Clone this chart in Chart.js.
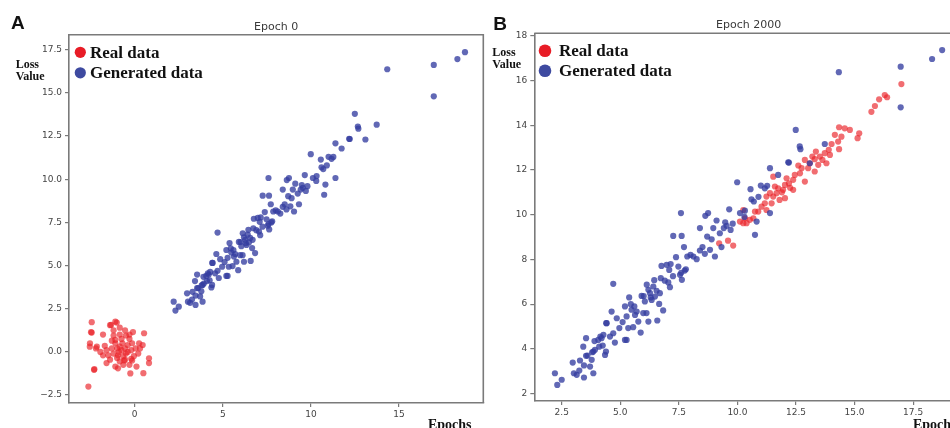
<!DOCTYPE html>
<html>
<head>
<meta charset="utf-8">
<script src="https://cdn.jsdelivr.net/npm/chart.js@4.4.0/dist/chart.umd.min.js"></script>
<style>
  body { margin: 0; width: 950px; height: 428px; overflow: hidden; background: #fff; position: relative; }
  .panel { position: absolute; top: 0; width: 490px; height: 428px; }
  #panelA { left: 0; }
  #panelB { left: 480px; }
</style>
</head>
<body>
<div class="panel" id="panelA"><canvas id="chartA" width="490" height="428"></canvas></div>
<div class="panel" id="panelB"><canvas id="chartB" width="490" height="428"></canvas></div>
<script>
// values, [epochs, loss]
const generatedData = [
  [2.21,2.91],[2.31,2.39],[2.5,2.62],[2.97,3.39],[3.02,2.91],[3.14,2.84],[3.25,3.03],[3.28,3.48],[3.45,3.26],[3.45,2.72],
  [3.54,4.48],[3.42,4.1],[3.54,3.69],[3.71,3.21],[3.78,3.51],[3.85,2.91],[3.85,3.88],[3.92,3.96],[4.06,4.4],[4.1,4.1],
  [4.2,4.48],[4.28,4.63],[4.35,3.73],[4.39,3.88],[4.42,5.15],[4.56,4.55],[4.63,5.67],[4.7,6.91],[4.77,4.28],[4.85,5.37],
  [4.96,4.93],[5.2,4.4],[5.27,4.4],[5.34,4.93],[5.2,5.9],[5.38,6.3],[5.27,5.45],[5.48,5.75],[5.55,4.97],[5.63,5.52],
  [5.7,5.67],[5.77,5.22],[5.87,4.73],[5.91,6.37],[5.98,5.6],[6.05,6.12],[6.12,5.6],[6.2,6.64],[6.2,5.22],[6.27,6.49],
  [6.34,6.19],[6.41,6.79],[6.48,6.34],[6.58,5.27],[6.66,6.01],[6.69,6.49],[6.76,7.71],[6.83,5.72],[6.98,7.76],[7.09,7.53],
  [7.05,6.97],[7.12,6.76],[7.15,7.79],[7.26,9.05],[7.38,8.1],[7.48,7.68],[7.55,7.31],[7.62,9.05],[7.59,10.07],[7.63,7.09],
  [7.72,8.55],[7.8,7.56],[7.86,8.13],[8.12,8.13],[8.26,8.01],[8.4,9.4],[8.4,8.4],[8.51,8.55],[8.61,8.25],[8.71,9.02],
  [8.75,10.07],[8.83,8.43],[8.97,9.4],[9.04,8.13],[9.11,9.74],[9.25,9.17],[9.32,8.55],[9.42,9.4],[9.54,9.5],[9.65,10.24],
  [9.71,9.32],[9.99,11.45],[10.11,10.07],[10.32,10.18],[10.56,11.14],[10.6,10.69],[10.7,10.59],[10.75,9.1],[10.82,9.69],[11.17,11.18],
  [11.27,11.29],[11.39,12.08],[11.39,10.07],[11.74,11.78],[12.17,12.34],[12.2,12.33],[12.49,13.79],[12.66,13.05],[12.69,12.93],[13.09,12.3],
  [13.73,13.16],[14.33,16.37],[16.97,16.62],[16.97,14.8],[18.31,16.96],[18.74,17.36],
  [5.45,6.0],[5.6,5.9],[6.0,6.36],[6.13,6.87],[6.3,6.3],[6.45,7.07],[6.73,7.16],[6.9,7.05],[7.25,7.25],[7.6,7.4],
  [7.75,7.5],[4.4,5.15],[4.15,4.55],[3.9,4.35],[3.6,3.7],[3.8,3.85],[4.25,4.15],[8.0,8.2],[8.63,9.95],[8.9,8.9],
  [9.48,9.66],[9.8,9.6],[10.3,9.9],[10.9,10.8],[11.0,11.3],[6.55,6.6],[5.1,5.2],[4.7,4.7]
];

const realEpoch0 = [
  [-2.44,1.72],[-2.63,-2.01],[-2.29,-1.0],[-2.48,1.14],[-2.54,0.5],[-2.55,0.3],[-2.15,0.3],[-1.1,1.75],[-1.4,1.55],[-0.85,1.4],
  [-0.55,1.25],[-0.1,1.15],[0.53,1.08],[-1.8,1.0],[-1.2,0.95],[-0.75,0.75],[-0.3,0.75],[0.25,0.5],[0.45,0.4],[-1.1,0.5],
  [-0.85,0.3],[-0.55,0.2],[-1.6,0.1],[-1.95,0.0],[-1.2,-0.1],[-0.95,-0.2],[-0.5,-0.1],[-0.2,0.1],[0.05,0.2],[-1.4,-0.45],
  [-1.6,-0.65],[-1.1,-0.85],[-0.85,-0.55],[-0.55,-0.45],[-0.3,-0.75],[0.1,-0.85],[-0.25,-1.25],[0.49,-1.23],[0.81,-0.37],[0.81,-0.65],
  [-0.95,-0.95],[-0.65,-0.25],[-1.0,0.2],[-0.75,0.1],[-0.4,0.4],[-0.15,0.5],[-0.05,-0.25],[0.2,-0.1],[-1.3,0.65],[-1.7,0.35],
  [-2.2,0.2],[-0.85,1.0],[-0.5,0.95],[-1.0,-0.35],[-1.8,-0.2],[-0.65,-0.75],[-0.15,-0.5],[-1.2,1.25],[-1.34,1.56],[-1.02,1.7],
  [-0.7,0.5],[-0.9,0.0],[-0.4,0.0],[-1.3,0.2],[-0.6,-0.5],[-1.5,-0.2],[0.3,0.2],[-0.2,-0.4],[-1.1,0.7],[-0.3,1.0],
  [-2.31,-1.04],[-2.44,1.12]
];

const realEpoch2000 = [
  [17.0,15.84],[16.29,15.35],[16.39,15.25],[16.05,15.16],[15.87,14.86],[15.72,14.6],[15.2,13.64],[15.13,13.42],[14.8,13.79],[14.58,13.86],
  [14.34,13.91],[14.44,13.49],[14.16,13.57],[14.3,13.27],[14.02,13.16],[14.34,12.93],[13.95,12.67],[13.73,12.75],[13.52,12.6],[13.63,12.45],
  [13.8,12.3],[13.35,12.82],[13.3,12.48],[13.45,12.23],[13.3,11.93],[13.09,12.3],[12.88,12.45],[13.02,12.08],[12.74,12.08],[12.67,11.85],
  [12.88,11.48],[12.45,11.78],[12.38,11.56],[12.1,11.63],[12.03,11.33],[11.95,11.11],[12.38,11.11],[12.03,10.74],[11.74,11.18],[11.67,10.96],
  [11.53,10.81],[11.6,11.26],[11.53,11.7],[11.39,10.96],[11.46,10.51],[11.24,10.81],[11.17,10.51],[11.03,10.36],[10.89,10.14],[10.75,10.14],
  [10.68,9.84],[10.53,9.77],[10.39,9.62],[10.32,9.84],[10.25,9.62],[10.11,9.69],[10.25,10.21],[9.82,8.62],[9.6,8.84],[9.22,8.72],
  [11.24,10.21],[11.8,10.66],[12.25,11.2],[12.6,12.2],[13.2,12.6],[13.9,12.9],[12.2,11.4],[11.9,11.0]
];

const ticksA_x = [0, 5, 10, 15];
const ticksA_y = [-2.5, 0, 2.5, 5, 7.5, 10, 12.5, 15, 17.5];
const ticksB_x = [2.5, 5, 7.5, 10, 12.5, 15, 17.5];
const ticksB_y = [2, 4, 6, 8, 10, 12, 14, 16, 18];

const REAL_COLOR = 'rgba(234, 34, 40, 0.66)';
const GEN_COLOR = 'rgba(52, 62, 160, 0.78)';
const REAL_LEGEND = 'rgb(232, 28, 38)';
const GEN_LEGEND = 'rgb(62, 74, 160)';
const FRAME = '#7a7a7a';

const toPoints = arr => arr.map(p => ({ x: p[0], y: p[1] }));
const minus = s => s.replace('-', '\u2212');

// frame top/right + all the figure text
const decorPlugin = {
  id: 'decor',
  afterDraw(chart, args, o) {
    const c = chart.ctx, a = chart.chartArea;
    c.save();
    c.strokeStyle = FRAME;
    c.lineWidth = 1.6;
    c.beginPath();
    c.moveTo(a.left, a.top); c.lineTo(a.right, a.top); c.lineTo(a.right, a.bottom);
    c.stroke();

    c.fillStyle = '#111';
    c.font = 'bold 19px "Liberation Sans", Arial, sans-serif';
    c.textBaseline = 'alphabetic';
    c.fillText(o.letter, o.letterX, o.letterY);

    c.fillStyle = '#3a3a3a';
    c.font = '11px "DejaVu Sans", sans-serif';
    c.textAlign = 'center';
    c.textBaseline = 'middle';
    c.fillText(o.title, (a.left + a.right) / 2, o.titleY);

    c.textAlign = 'left';
    c.fillStyle = '#111';
    c.font = 'bold 12px "Liberation Serif", "Times New Roman", serif';
    c.fillText('Loss', o.ylabX, o.ylabY);
    c.fillText('Value', o.ylabX, o.ylabY + 12.3);

    c.font = 'bold 14px "Liberation Serif", "Times New Roman", serif';
    c.textBaseline = 'alphabetic';
    c.fillText('Epochs', o.xlabX, 428.5);

    // legend
    const cols = [REAL_LEGEND, GEN_LEGEND];
    c.font = 'bold 17px "Liberation Serif", "Times New Roman", serif';
    c.textBaseline = 'middle';
    chart.data.datasets.forEach((ds, i) => {
      const y = o.legY + i * o.legGap;
      c.fillStyle = cols[i];
      c.beginPath();
      c.arc(o.legDotX, y - 1, o.legR, 0, Math.PI * 2);
      c.fill();
      c.fillStyle = '#111';
      c.fillText(ds.label, o.legTextX, y);
    });
    c.restore();
  }
};

function makePanel(id, real, cfg) {
  const tickFont = { family: '"DejaVu Sans", sans-serif', size: 9 };
  const axisCommon = {
    type: 'linear',
    grid: { drawOnChartArea: false, drawTicks: true, tickLength: 4, color: FRAME, lineWidth: 1.2 },
    border: { display: true, color: FRAME, width: 1.6 }
  };
  new Chart(document.getElementById(id), {
    type: 'scatter',
    data: {
      datasets: [
        { label: 'Real data', data: toPoints(real), backgroundColor: REAL_COLOR, order: 1 },
        { label: 'Generated data', data: toPoints(generatedData), backgroundColor: GEN_COLOR, order: 0 }
      ]
    },
    options: {
      responsive: false,
      animation: false,
      events: [],
      layout: { padding: { left: 0, top: cfg.top, right: cfg.right, bottom: 0 } },
      elements: { point: { radius: 3.1, borderWidth: 0, hoverRadius: 3.1 } },
      scales: {
        x: Object.assign({}, axisCommon, {
          min: cfg.xMin, max: cfg.xMax,
          afterBuildTicks: s => { s.ticks = cfg.ticksX.map(v => ({ value: v })); },
          afterFit: s => { s.height = 428 - cfg.bottom; },
          ticks: { font: tickFont, color: '#444', padding: 2, maxRotation: 0, autoSkip: false, callback: cfg.fmtX }
        }),
        y: Object.assign({}, axisCommon, {
          min: cfg.yMin, max: cfg.yMax,
          afterBuildTicks: s => { s.ticks = cfg.ticksY.map(v => ({ value: v })); },
          afterFit: s => { s.width = cfg.left; },
          ticks: { font: tickFont, color: '#444', padding: 3, autoSkip: false, callback: cfg.fmtY }
        })
      },
      plugins: {
        legend: { display: false },
        tooltip: { enabled: false },
        decor: cfg.decor
      }
    },
    plugins: [decorPlugin]
  });
}

makePanel('chartA', realEpoch0, {
  left: 69, top: 34.7, right: 6.7, bottom: 403,
  xMin: -3.73, xMax: 19.78, yMin: -2.96, yMax: 18.37,
  ticksX: ticksA_x, ticksY: ticksA_y,
  fmtX: v => minus(String(v)),
  fmtY: v => minus(v.toFixed(1)),
  decor: { letter: 'A', letterX: 11, letterY: 29, title: 'Epoch 0', titleY: 26.7,
           ylabX: 15.7, ylabY: 65, xlabX: 428,
           legDotX: 80.3, legTextX: 90, legY: 53.3, legGap: 20.5, legR: 5.6 }
});

makePanel('chartB', realEpoch2000, {
  left: 54.3, top: 33.3, right: 7, bottom: 401,
  xMin: 1.33, xMax: 19.63, yMin: 1.67, yMax: 18.11,
  ticksX: ticksB_x, ticksY: ticksB_y,
  fmtX: v => v.toFixed(1),
  fmtY: v => String(v),
  decor: { letter: 'B', letterX: 13.3, letterY: 30, title: 'Epoch 2000', titleY: 25,
           ylabX: 12.3, ylabY: 52.7, xlabX: 433,
           legDotX: 65, legTextX: 79, legY: 51.7, legGap: 20, legR: 6.3 }
});
</script>
</body>
</html>
